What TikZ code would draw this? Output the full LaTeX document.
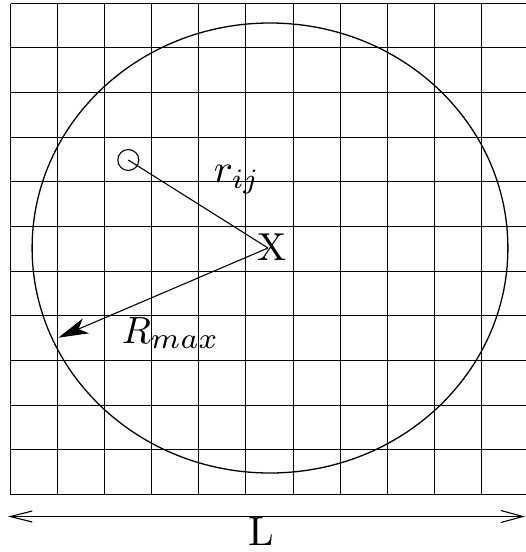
\documentclass[tikz,border=0pt]{standalone}
\usetikzlibrary{arrows.meta}
\begin{document}
\begin{tikzpicture}[x=1pt,y=-1pt,
  gridline/.style={line width=1.8pt,black},
  ring/.style={line width=1.3pt},
  link/.style={line width=1.1pt},
  lbl/.style={inner sep=0pt,anchor=base west}]
\useasboundingbox (0,0) rectangle (526,552);
% grid (snapped to pixel centres)
\foreach \k in {0,...,11}{
  \pgfmathsetmacro{\yy}{floor(3.3+44.64*\k)+0.5}
  \draw[gridline] (10.5,\yy) -- (530,\yy);
}
\foreach \k in {0,...,10}{
  \pgfmathsetmacro{\xx}{floor(10+47.2*\k)+0.5}
  \draw[gridline] (\xx,3.5) -- (\xx,494.5);
}
% big circle
\draw[ring] (270,248) ellipse [x radius=237.9pt, y radius=225pt];
% nodes
\node[draw,circle,minimum size=21pt,inner sep=0pt,line width=1.1pt] (p) at (128.3,160) {};
\node[lbl,scale=3.9] (X) at (257,260) {X};
\coordinate (xc) at (268,248);
\coordinate (rtip) at (58.3,337.7);
\node[lbl,scale=4.0] (rij) at (213,182) {$r_{ij}$};
\node[lbl,scale=3.8] (rmax) at (121,343) {$R_{\scalebox{1.1}{$\scriptstyle max$}}$};
\node[lbl,scale=4.1] (L) at (248,545) {L};
\coordinate (la) at (8,516.5);
\coordinate (lb) at (525,516.5);
% connectors
\draw[link] (p.center) -- (xc);
\draw[link,-{Stealth[length=30pt,width=16pt,inset=8pt]}] (xc) -- (rtip);
\draw[link,{Straight Barb[length=22pt,width=11pt]}-{Straight Barb[length=22pt,width=12pt]}] (la) -- (lb);
\end{tikzpicture}
\end{document}
